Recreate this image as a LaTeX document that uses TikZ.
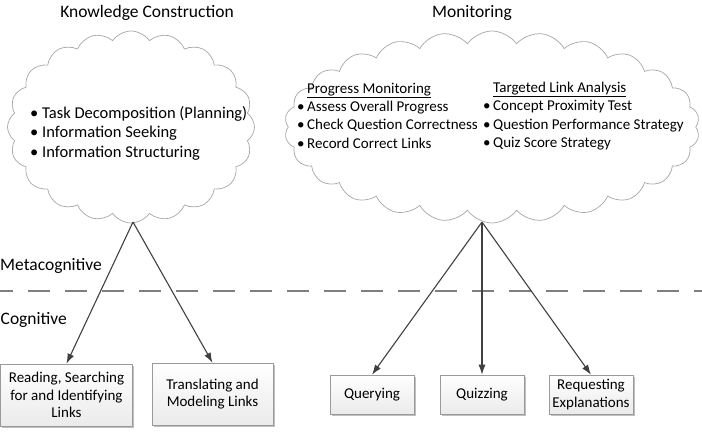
\documentclass[tikz,border=0pt]{standalone}
\usepackage{fontspec}
\setmainfont{Carlito}
\usetikzlibrary{shapes.symbols,arrows.meta,shadows}
\definecolor{linegray}{HTML}{404040}
\definecolor{cloudgray}{HTML}{A6A6A6}
\definecolor{boxgray}{HTML}{9A9A9A}
\definecolor{dashgray}{HTML}{7F7F7F}
\newcommand\bul{\makebox[12pt][l]{\textbullet}}
\newcommand\bulm{\makebox[10pt][l]{\textbullet}}
\begin{document}
\begin{tikzpicture}[x=1pt,y=-1pt,
  cloudbox/.style={cloud, draw=cloudgray, line width=0.7pt, cloud puffs=20, cloud puff arc=110, inner sep=0pt},
  actbox/.style={draw=boxgray, line width=0.6pt, top color=white, bottom color=black!8, align=center,
     font=\fontsize{15}{17.5}\selectfont, inner sep=0pt,
     drop shadow={shadow xshift=1.5pt, shadow yshift=-1.5pt, opacity=0.25, fill=black}},
  conn/.style={draw=linegray, line width=1.1pt, -{Latex[length=10pt,width=7pt]}},
  titletext/.style={font=\fontsize{17.5}{20}\selectfont, inner sep=0pt},
  listtext/.style={align=left, inner sep=0pt, anchor=north west}
]
\useasboundingbox (0,0) rectangle (702,432);

% titles
\node[titletext, anchor=base] (kctitle) at (147,17.5) {Knowledge Construction};
\node[titletext, anchor=base] (montitle) at (472,17.5) {Monitoring};

% clouds
\node[cloudbox, minimum width=247pt, minimum height=192pt] (kc) at (131,127) {};
\node[cloudbox, cloud puffs=26, minimum width=415pt, minimum height=192pt] (mon) at (492,127) {};

% cloud texts
\node[listtext, font=\fontsize{16.5}{19.5}\selectfont] (kclist) at (30,106)
  {\bul Task Decomposition (Planning)\\ \bul Information Seeking\\ \bul Information Structuring};
\node[listtext, font=\fontsize{15}{18.2}\selectfont] (pmlist) at (297,83)
  {\hspace*{10pt}\underline{Progress Monitoring}\\ \bulm Assess Overall Progress\\ \bulm Check Question Correctness\\ \bulm Record Correct Links};
\node[listtext, font=\fontsize{15}{18.2}\selectfont] (tlalist) at (483,82)
  {\hspace*{10pt}\underline{Targeted Link Analysis}\\ \bulm Concept Proximity Test\\ \bulm Question Performance Strategy\\ \bulm Quiz Score Strategy};

% level labels and divider
\node[titletext, anchor=base west] (meta) at (0,270) {Metacognitive};
\node[titletext, anchor=base west] (cogn) at (0.5,324.5) {Cognitive};
\coordinate (dl) at (0,291);
\coordinate (dr) at (702,291);
\draw[dashgray, line width=2pt, dash pattern=on 22pt off 15pt, dash phase=9pt] (dl) -- (dr);

% activity boxes
\node[actbox, minimum width=132pt, minimum height=62pt] (read) at (66.5,395) {Reading, Searching\\for and Identifying\\Links};
\node[actbox, minimum width=121pt, minimum height=62pt] (trans) at (212.5,394) {Translating and\\Modeling Links};
\node[actbox, minimum width=84pt, minimum height=39pt] (query) at (372,394.5) {Querying};
\node[actbox, minimum width=84pt, minimum height=39pt] (quiz) at (482,394.5) {Quizzing};
\node[actbox, minimum width=84pt, minimum height=39pt] (req) at (591,394.5) {Requesting\\Explanations};

% connectors
\coordinate (kcapex) at (133,222);
\coordinate (monapex) at (482,222);
\draw[conn] (kcapex) -- (read.north);
\draw[conn] (kcapex) -- (trans.north);
\draw[conn] (monapex) -- (query.north);
\draw[conn] (monapex) -- (quiz.north);
\draw[conn] (monapex) -- (req.north);
\end{tikzpicture}
\end{document}
